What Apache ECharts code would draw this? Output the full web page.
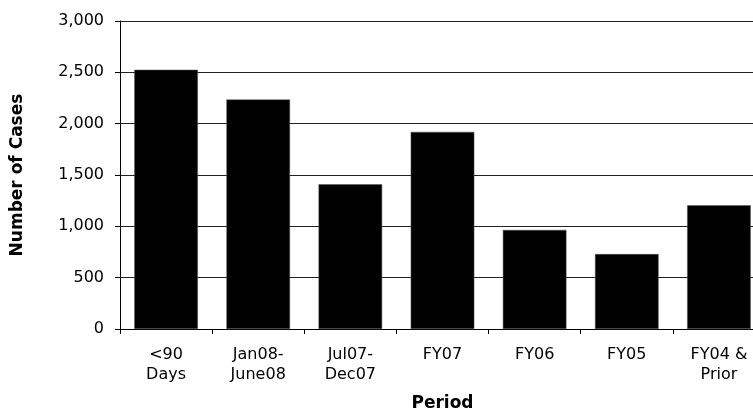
<!DOCTYPE html>
<html>
<head>
<meta charset="utf-8">
<script src="https://cdn.jsdelivr.net/npm/echarts@6/dist/echarts.min.js"></script>
<style>
  html, body { margin: 0; padding: 0; background: #fff; }
  #chart { width: 753px; height: 410px; }
</style>
</head>
<body>
<div id="chart"></div>
<script>
// Case counts by period
const periods = ['<90\nDays', 'Jan08-\nJune08', 'Jul07-\nDec07', 'FY07', 'FY06', 'FY05', 'FY04 &\nPrior'];
const caseCounts = [2525, 2235, 1410, 1920, 965, 730, 1205];
const yTicks = [0, 500, 1000, 1500, 2000, 2500, 3000];

const FONT = "'DejaVu Sans', 'Liberation Sans', Arial, sans-serif";

const chart = echarts.init(document.getElementById('chart'), null, { renderer: 'canvas' });

chart.setOption({
  animation: false,
  backgroundColor: '#ffffff',
  // plot area runs past the right edge of the canvas
  grid: { left: 120, top: 21, width: 645, height: 308, containLabel: false, outerBoundsMode: 'none' },
  xAxis: {
    type: 'category',
    data: periods,
    name: 'Period',
    nameLocation: 'middle',
    nameGap: 66,
    nameTextStyle: { fontFamily: FONT, fontSize: 17, fontWeight: 'bold', color: '#000' },
    axisLine: { show: true, lineStyle: { color: '#000', width: 1 } },
    axisTick: { show: true, length: 5, alignWithLabel: false, lineStyle: { color: '#000' } },
    axisLabel: {
      interval: 0,
      margin: 16,
      fontFamily: FONT,
      fontSize: 16,
      lineHeight: 20,
      color: '#000'
    },
    splitLine: { show: false }
  },
  yAxis: {
    type: 'value',
    min: yTicks[0],
    max: yTicks[yTicks.length - 1],
    interval: yTicks[1] - yTicks[0],
    name: 'Number of Cases',
    nameLocation: 'middle',
    nameGap: 94,
    nameRotate: 90,
    nameTextStyle: { fontFamily: FONT, fontSize: 17, fontWeight: 'bold', color: '#000' },
    axisLine: { show: true, lineStyle: { color: '#000', width: 1 } },
    axisTick: { show: true, length: 5, lineStyle: { color: '#000' } },
    axisLabel: {
      margin: 16,
      fontFamily: FONT,
      fontSize: 16,
      color: '#000',
      formatter: v => v.toLocaleString('en-US')
    },
    splitLine: { show: true, lineStyle: { color: '#222', width: 1 } }
  },
  series: [{
    type: 'bar',
    data: caseCounts,
    barCategoryGap: '31%',
    itemStyle: { color: '#000', borderColor: '#555', borderWidth: 0.5 }
  }]
});
</script>
</body>
</html>
